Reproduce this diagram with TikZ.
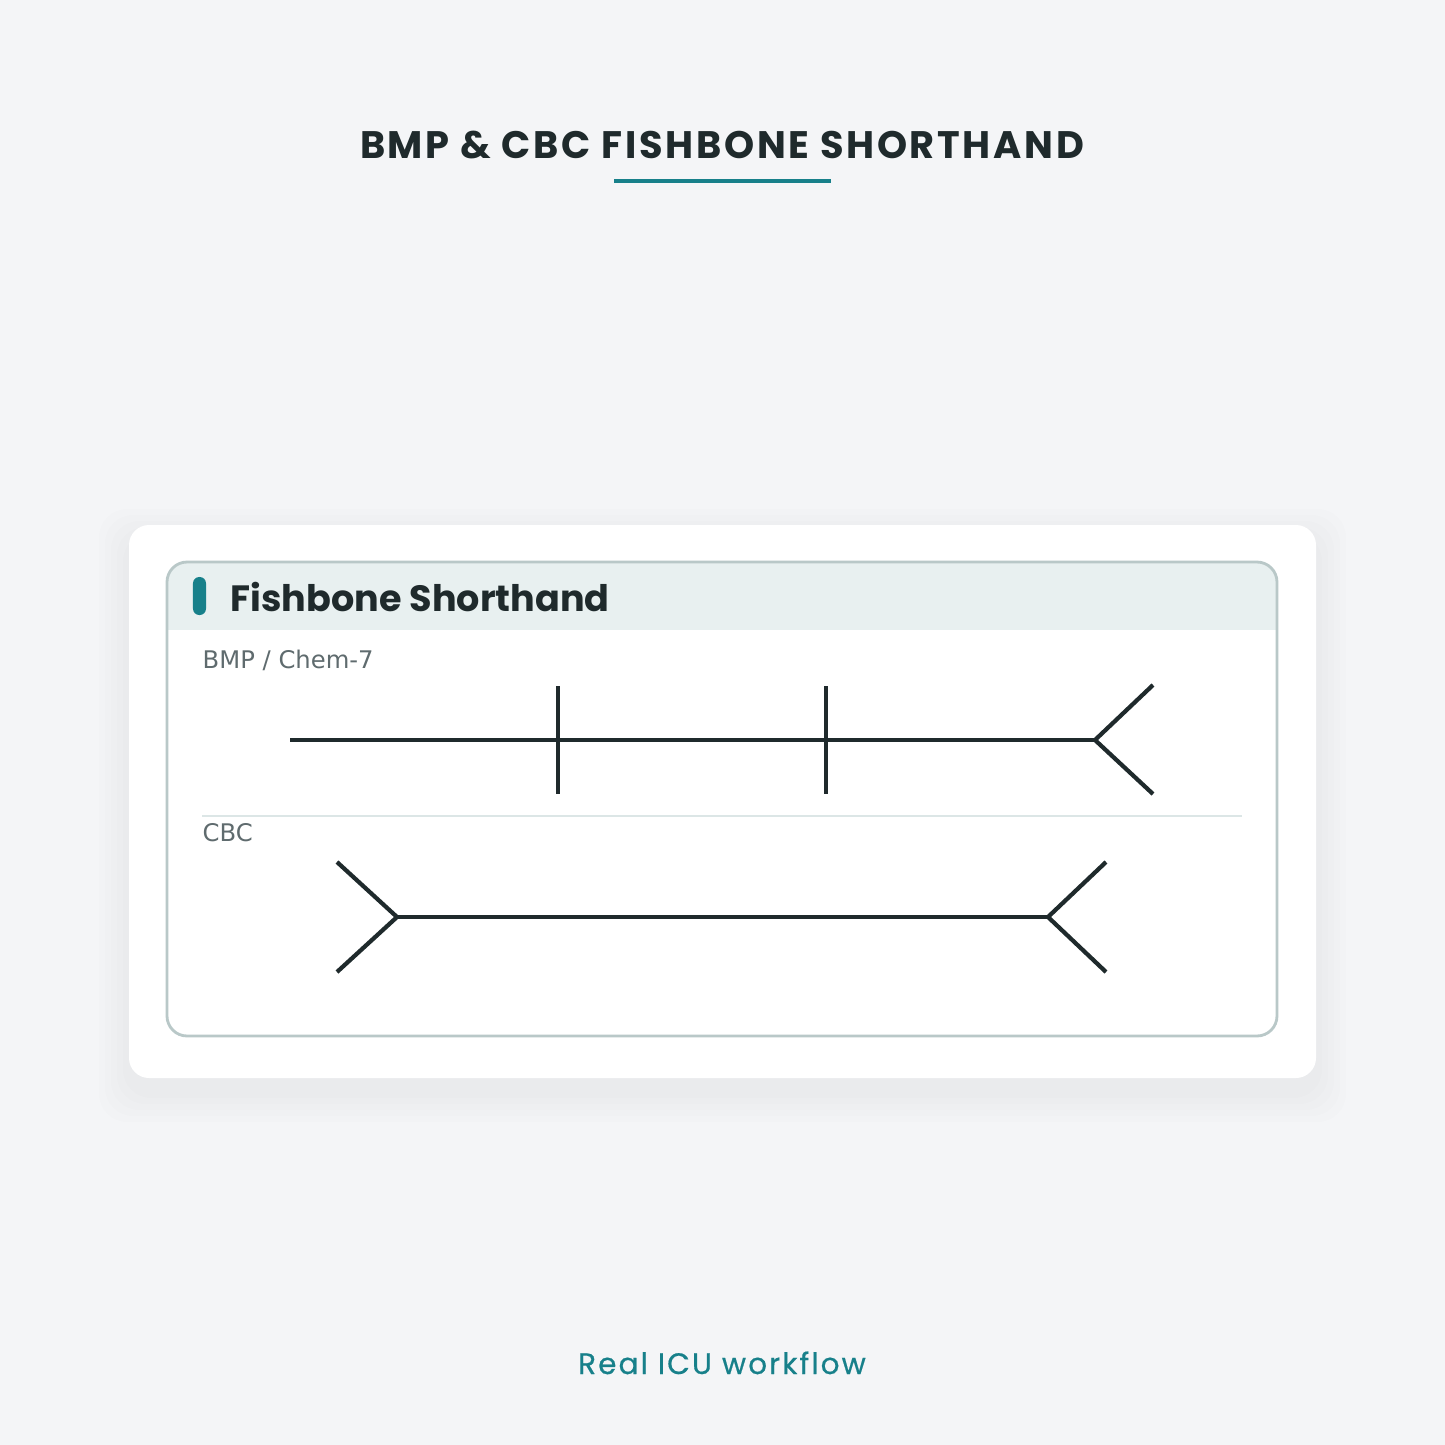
\documentclass[tikz,border=0pt]{standalone}
\usepackage{fontspec}
\setmainfont{DejaVu Sans}
\newfontfamily\titlefont[LetterSpace=7]{Poppins}
\newfontfamily\headfont{Poppins}
\newfontfamily\footfont[LetterSpace=7,FakeBold=0.5]{Poppins}
\usepackage{tikz}
\usetikzlibrary{positioning}
\definecolor{bgc}{HTML}{F4F5F7}
\definecolor{ink}{HTML}{1F2A2C}
\definecolor{tealc}{HTML}{17808A}
\definecolor{greyc}{HTML}{5F6B6E}
\definecolor{panelc}{HTML}{B9C8C8}
\definecolor{headc}{HTML}{E8F0F0}
\definecolor{sepc}{HTML}{DCE6E6}
\tikzstyle{titletxt}=[font=\titlefont\bfseries\fontsize{10.9pt}{12pt}\selectfont, text=ink, inner sep=0pt]
\tikzstyle{headtxt}=[font=\headfont\bfseries\fontsize{10.4pt}{12pt}\selectfont, text=ink, inner sep=0pt]
\tikzstyle{lbl}=[font=\fontsize{6.9pt}{8pt}\selectfont, text=greyc, inner sep=0pt]
\tikzstyle{foottxt}=[font=\footfont\fontsize{8.4pt}{10pt}\selectfont, text=tealc, inner sep=0pt]
\tikzstyle{bone}=[draw=ink, line width=1.2pt]
\tikzstyle{pill}=[fill=tealc, minimum width=0.13cm, minimum height=0.38cm, rounded corners=1.8pt, inner sep=0pt]

\begin{document}
\begin{tikzpicture}[x=0.01cm,y=-0.01cm,>=latex]
\useasboundingbox (0,0) rectangle (1445,1445);
\fill[bgc] (0,0) rectangle (1445,1445);

% title
\node[titletxt, anchor=base] (title) at (722,158) {BMP \& CBC FISHBONE SHORTHAND};
\coordinate (ulA) at (614,181);
\coordinate (ulB) at (831,181);
\draw[tealc, line width=1.1pt] (ulA) -- (ulB);

% card + soft shadow
\foreach \s in {30,24,18,12,6}
  \fill[black, opacity=0.008, rounded corners=8pt] (129-\s,525-\s+14) rectangle (1316+\s,1078+\s+14);
\fill[white, rounded corners=5.7pt] (129,525) rectangle (1316,1078);

% panel
\begin{scope}
\clip[rounded corners=5.7pt] (167,562) rectangle (1277,1036);
\fill[white] (167,562) rectangle (1277,1036);
\fill[headc] (167,562) rectangle (1277,630);
\end{scope}
\draw[panelc, line width=0.8pt, rounded corners=5.7pt] (167,562) rectangle (1277,1036);

\node[pill] (pill) at (199.5,596) {};
\node[headtxt, anchor=base west] (head) at (230,611) {Fishbone Shorthand};

% BMP
\node[lbl, anchor=base west] (bmp) at (202,668) {BMP / Chem-7};
\coordinate (b0) at (290,740);
\coordinate (b1) at (558,740);
\coordinate (b2) at (826,740);
\coordinate (bj) at (1095,740);
\coordinate (b1u) at (558,686);
\coordinate (b1d) at (558,794);
\coordinate (b2u) at (826,686);
\coordinate (b2d) at (826,794);
\coordinate (bju) at (1153,685);
\coordinate (bjd) at (1153,794);
\draw[bone] (b0) -- (bj);
\draw[bone] (b1u) -- (b1d);
\draw[bone] (b2u) -- (b2d);
\draw[bone] (bju) -- (bj) -- (bjd);

\coordinate (sepA) at (202,816);
\coordinate (sepB) at (1242,816);
\draw[sepc, line width=0.5pt] (sepA) -- (sepB);

% CBC
\node[lbl, anchor=base west] (cbc) at (202,841) {CBC};
\coordinate (cl) at (397,917);
\coordinate (cr) at (1048,917);
\coordinate (clu) at (337,862);
\coordinate (cld) at (337,972);
\coordinate (cru) at (1106,862);
\coordinate (crd) at (1106,972);
\draw[bone] (cl) -- (cr);
\draw[bone] (clu) -- (cl) -- (cld);
\draw[bone] (cru) -- (cr) -- (crd);

% footer
\node[foottxt, anchor=base] (foot) at (722,1374) {Real ICU workflow};
\end{tikzpicture}
\end{document}
